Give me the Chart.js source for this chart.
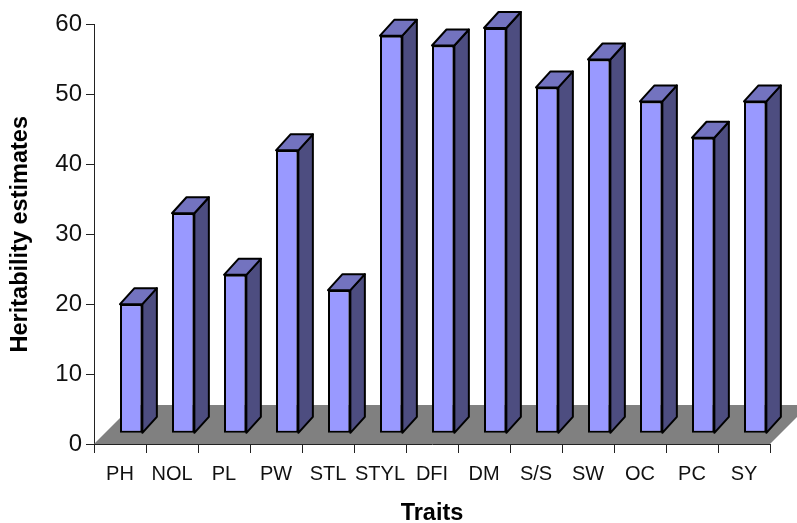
<!DOCTYPE html>
<html>
<head>
<meta charset="utf-8">
<script src="https://cdn.jsdelivr.net/npm/chart.js@4/dist/chart.umd.min.js"></script>
<style>
  html, body { margin: 0; padding: 0; background: #fff; }
  canvas { display: block; }
</style>
</head>
<body>
<canvas id="chart" width="797" height="523"></canvas>
<script>
const categories = ['PH', 'NOL', 'PL', 'PW', 'STL', 'STYL', 'DFI', 'DM', 'S/S', 'SW', 'OC', 'PC', 'SY'];
const heritability = [20, 33, 24.2, 42, 22, 58.4, 57, 59.5, 51, 55, 49, 43.8, 49];
const yTicks = [0, 10, 20, 30, 40, 50, 60];

// the 3d look: bars stand a bit behind the axis plane, on a gray floor
const barBase = 1.6;
const barShare = 0.43;
const depthX = 14.5;
const depthY = 16;
const floorDepth = 39;

function face(ctx, pts, fill) {
    ctx.beginPath();
    ctx.moveTo(pts[0][0], pts[0][1]);
    for (let i = 1; i < pts.length; i++) ctx.lineTo(pts[i][0], pts[i][1]);
    ctx.closePath();
    ctx.fillStyle = fill;
    ctx.fill();
    ctx.stroke();
}

const bars3d = {
    id: 'bars3d',
    beforeDatasetsDraw(chart) {
        const ctx = chart.ctx;
        const x = chart.scales.x;
        const y0 = chart.scales.y.getPixelForValue(0);

        ctx.save();
        ctx.fillStyle = '#808080';
        ctx.beginPath();
        ctx.moveTo(x.left, y0);
        ctx.lineTo(x.right, y0);
        ctx.lineTo(x.right + floorDepth, y0 - floorDepth);
        ctx.lineTo(x.left + floorDepth, y0 - floorDepth);
        ctx.closePath();
        ctx.fill();

        // bar front starts at the category centre, so shift everything half a bar
        const step = x.width / categories.length;
        ctx.translate(step * barShare / 2, 0);
        ctx.strokeStyle = '#000';
        ctx.lineWidth = 2;
        ctx.lineJoin = 'round';
        chart.getDatasetMeta(0).data.forEach(function (bar) {
            const half = bar.width / 2;
            const l = bar.x - half;
            const r = bar.x + half;
            const t = bar.y;
            const b = bar.base;
            face(ctx, [[r, t], [r + depthX, t - depthY], [r + depthX, b - depthY], [r, b]], '#4D4D80');
            face(ctx, [[l, t], [l + depthX, t - depthY], [r + depthX, t - depthY], [r, t]], '#7373BF');
        });
    },
    afterDatasetsDraw(chart) {
        chart.ctx.restore();
    }
};

new Chart(document.getElementById('chart').getContext('2d'), {
    type: 'bar',
    data: {
        labels: categories,
        datasets: [{
            data: heritability,
            base: barBase,
            backgroundColor: '#9999FF',
            borderColor: '#000',
            borderWidth: 2,
            borderSkipped: false,
            categoryPercentage: 1,
            barPercentage: barShare
        }]
    },
    options: {
        responsive: false,
        animation: false,
        layout: { padding: { top: 24.5, right: 27, left: 0, bottom: 0 } },
        plugins: { legend: { display: false }, tooltip: { enabled: false } },
        scales: {
            x: {
                afterFit(scale) { scale.height = 79; },
                grid: { drawOnChartArea: false, color: '#222', tickLength: 9, offset: true },
                border: { color: '#222', width: 1 },
                ticks: { color: '#111', font: { family: 'Liberation Sans', size: 20 }, maxRotation: 0, autoSkip: false, padding: 9 },
                title: {
                    display: true,
                    text: 'Traits',
                    color: '#000',
                    font: { family: 'Liberation Sans', size: 23.5, weight: 'bold', lineHeight: 0.8 },
                    padding: { top: 0, bottom: 0 }
                }
            },
            y: {
                min: 0,
                max: 60,
                afterFit(scale) { scale.width = 94; },
                afterBuildTicks(scale) { scale.ticks = yTicks.map(v => ({ value: v })); },
                grid: { drawOnChartArea: false, color: '#222', tickLength: 8 },
                border: { color: '#222', width: 1 },
                ticks: { color: '#111', font: { family: 'Liberation Sans', size: 24 }, padding: 4 },
                title: {
                    display: true,
                    text: 'Heritability estimates',
                    color: '#000',
                    font: { family: 'Liberation Sans', size: 23.5, weight: 'bold' },
                    padding: { top: 6, bottom: 0 }
                }
            }
        }
    },
    plugins: [bars3d]
});
</script>
</body>
</html>
